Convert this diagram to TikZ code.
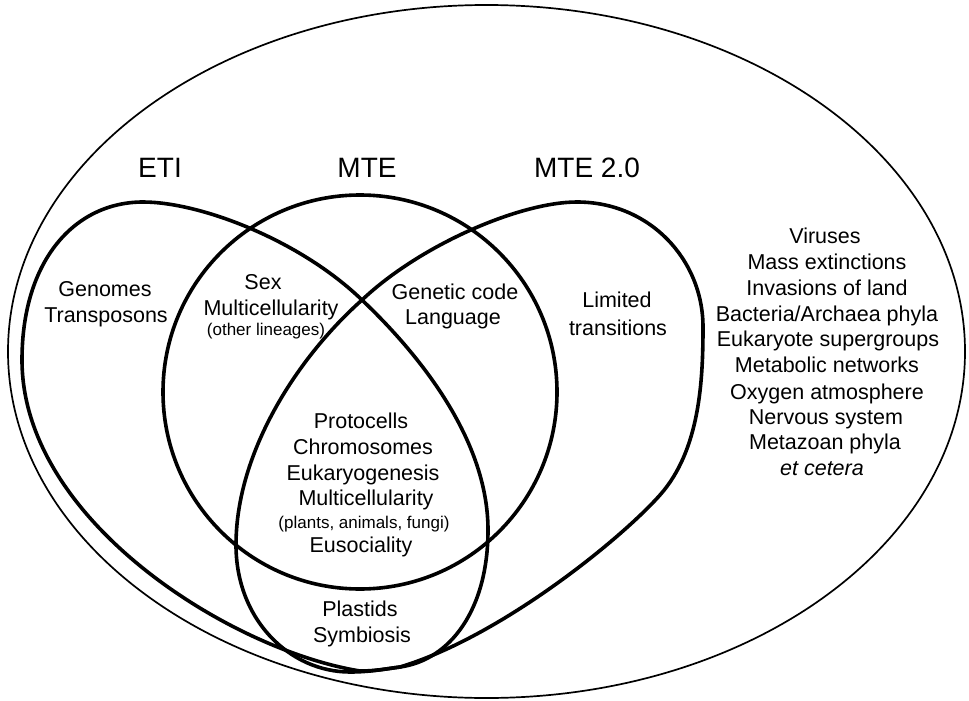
\documentclass[tikz,border=0pt]{standalone}
\usepackage{fontspec}
\setmainfont{Liberation Sans}
\begin{document}
\begin{tikzpicture}[x=1pt,y=-1pt,
  shapeline/.style={line width=3.6pt, line join=round, line cap=round},
  outerline/.style={line width=1.7pt},
  txt/.style={font=\fontsize{21.5}{26}\selectfont, inner sep=0pt, text height=15.5pt, text depth=0pt},
  smalltxt/.style={font=\fontsize{17}{20}\selectfont, inner sep=0pt, text height=12.2pt, text depth=0pt},
  title/.style={font=\fontsize{28}{32}\selectfont, inner sep=0pt, text height=20pt, text depth=0pt}]
\useasboundingbox (0,0) rectangle (969,701);
% outer ellipse
\draw[outerline] (486.5,351.5) ellipse [x radius=478.5, y radius=346.5];
% MTE circle
\draw[shapeline] (360,392) circle [radius=197];
% ETI teardrop
\draw[shapeline] (360,671) .. controls (230,650) and (22,520) .. (22,360)
  .. controls (22,260) and (75,202) .. (143,202)
  .. controls (200,202) and (300,240) .. (362,300)
  .. controls (420,355) and (488,440) .. (488,530)
  .. controls (488,610) and (450,660) .. (400,667)
  .. controls (385,669) and (375,671) .. (360,671) -- cycle;
% MTE 2.0 teardrop
\draw[shapeline] (400,667) .. controls (500,637) and (620,540) .. (660,495)
  .. controls (700,450) and (703,380) .. (703,327)
  .. controls (703,260) and (650,202) .. (577,202)
  .. controls (520,202) and (420,245) .. (362,300)
  .. controls (300,355) and (236,450) .. (236,545)
  .. controls (236,620) and (290,672) .. (350,672)
  .. controls (370,672) and (385,669) .. (400,667) -- cycle;
% titles
\node[title] (eti) at (160,167) {ETI};
\node[title] (mte) at (367,167) {MTE};
\node[title] (mtetwo) at (587,167) {MTE 2.0};
% ETI only
\node[txt] (genomes) at (105,289) {Genomes};
\node[txt] (transposons) at (106,315) {Transposons};
% ETI & MTE
\node[txt] (sex) at (263,282) {Sex};
\node[txt] (multi1) at (271,308) {Multicellularity};
\node[smalltxt] (other) at (266,329) {(other lineages)};
% MTE & MTE2.0
\node[txt] (genetic) at (455,292) {Genetic code};
\node[txt] (language) at (453,317) {Language};
% MTE2.0 only
\node[txt] (limited) at (617,300) {Limited};
\node[txt] (transitions) at (618,328) {transitions};
% all three
\node[txt] (protocells) at (361,421) {Protocells};
\node[txt] (chromosomes) at (363,447) {Chromosomes};
\node[txt] (eukaryo) at (363,473) {Eukaryogenesis};
\node[txt] (multi2) at (366,498) {Multicellularity};
\node[smalltxt] (plants) at (364,522) {(plants, animals, fungi)};
\node[txt] (eusociality) at (361,545) {Eusociality};
% ETI & MTE2.0
\node[txt] (plastids) at (360,609) {Plastids};
\node[txt] (symbiosis) at (362,635) {Symbiosis};
% outside
\node[txt] (viruses) at (825,236) {Viruses};
\node[txt] (mass) at (827,262) {Mass extinctions};
\node[txt] (invasions) at (827,288) {Invasions of land};
\node[txt] (bacteria) at (827,313.5) {Bacteria/Archaea phyla};
\node[txt] (eukaryote) at (828,339) {Eukaryote supergroups};
\node[txt] (metabolic) at (827,365) {Metabolic networks};
\node[txt] (oxygen) at (827,391.5) {Oxygen atmosphere};
\node[txt] (nervous) at (826,417) {Nervous system};
\node[txt] (metazoan) at (825,442) {Metazoan phyla};
\node[txt] (etcetera) at (822,468) {\itshape et cetera};
\end{tikzpicture}
\end{document}
